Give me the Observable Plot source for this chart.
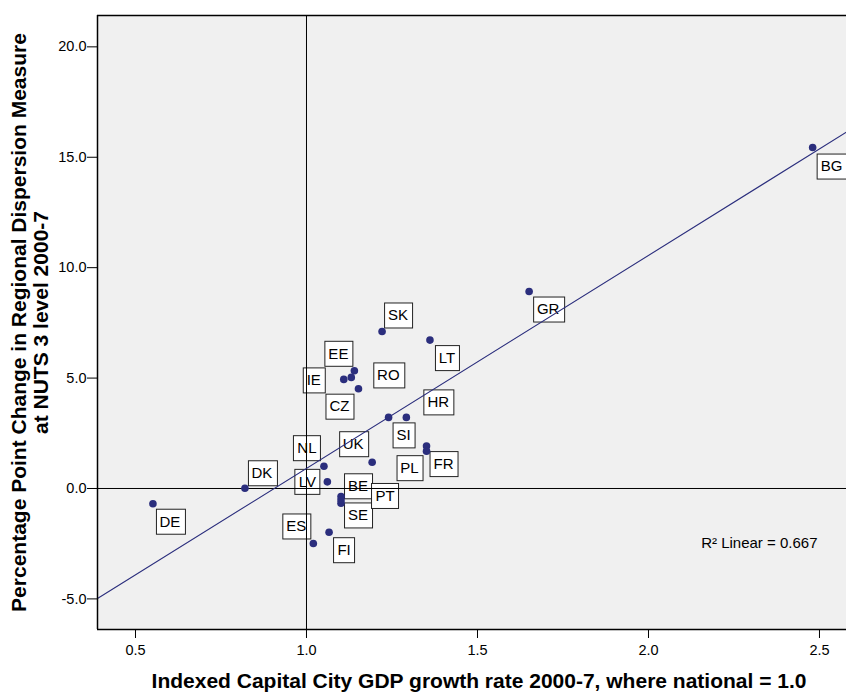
<!DOCTYPE html>
<html>
<head>
<meta charset="utf-8">
<script src="https://cdn.jsdelivr.net/npm/d3@7"></script>
<script src="https://cdn.jsdelivr.net/npm/@observablehq/plot@0.6"></script>
<style>
  body { margin: 0; background: #ffffff; }
  #chart svg { display: block; }
</style>
</head>
<body>
<div id="chart"></div>
<script>
// Capital city GDP growth (indexed, national = 1.0) vs. change in regional dispersion, 2000-7
const countries = ["BG", "GR", "SK", "LT", "EE", "RO", "IE", "CZ", "HR", "SI", "FR",
                   "PL", "UK", "NL", "LV", "DK", "DE", "BE", "SE", "PT", "ES", "FI"];
const capitalGrowth = [2.480, 1.651, 1.221, 1.361, 1.140, 1.131, 1.109, 1.152, 1.292, 1.240, 1.351,
                       1.351, 1.192, 1.051, 1.061, 0.820, 0.551, 1.101, 1.101, 1.101, 1.020, 1.066];
const dispersionChange = [15.44, 8.92, 7.11, 6.72, 5.33, 5.03, 4.94, 4.52, 3.22, 3.22, 1.92,
                          1.69, 1.19, 1.01, 0.30, 0.01, -0.69, -0.67, -0.36, -0.52, -2.49, -1.98];
const xTicks = [0.5, 1.0, 1.5, 2.0, 2.5];
const yTicks = [-5, 0, 5, 10, 15, 20];
const fitLabel = "R\u00B2 Linear = 0.667";
const xTitle = "Indexed Capital City GDP growth rate 2000-7, where national = 1.0";
const yTitle = "Percentage Point Change in Regional Dispersion Measure\nat NUTS 3 level 2000-7";

// where each country's boxed label sits relative to its point (pixels)
const labelOffset = {
  BG: [19, 19], GR: [19, 18], SK: [16, -16], LT: [17, 18], EE: [-16, -17],
  RO: [37, -2], IE: [-30, 1], CZ: [-19, 18], HR: [32, -15], SI: [15, 18],
  FR: [17, 18], PL: [-17, 17], UK: [-19, -18], NL: [-17, -18], LV: [-20, 0],
  DK: [17, -15], DE: [17, 18], BE: [17, -17], SE: [17, 19], PT: [44, -4],
  ES: [-17, -17], FI: [15, 18]
};

const data = countries.map((c, i) => ({country: c, x: capitalGrowth[i], y: dispersionChange[i]}));

// least-squares fit line
const mx = d3.mean(capitalGrowth), my = d3.mean(dispersionChange);
const slope = d3.sum(data, d => (d.x - mx) * (d.y - my)) / d3.sum(data, d => (d.x - mx) ** 2);
const intercept = my - slope * mx;

const xDomain = [0.3889, 2.579];
const yDomain = [-6.386, 21.42];
const fitLine = xDomain.map(x => ({x, y: intercept + slope * x}));

const ink = "#2b2e7d";
const fmt = d => d.toFixed(1);

const labelMarks = countries.map(c => Plot.text(data.filter(d => d.country === c), {
  x: "x", y: "y", text: "country",
  dx: labelOffset[c][0], dy: labelOffset[c][1],
  fontSize: 15, fill: "#000"
}));

const chart = Plot.plot({
  width: 846,
  height: 693,
  marginLeft: 97,
  marginRight: 0,
  marginTop: 15,
  marginBottom: 64,
  style: {fontFamily: "'Liberation Sans', Arial, sans-serif", fontSize: "14.5px", color: "#000", background: "#fff"},
  x: {domain: xDomain, label: null},
  y: {domain: yDomain, label: null},
  marks: [
    Plot.frame({fill: "#f0f0f0", stroke: "none"}),
    ...labelMarks,
    Plot.ruleX([1], {stroke: "#000", strokeWidth: 1}),
    Plot.ruleY([0], {stroke: "#000", strokeWidth: 1}),
    Plot.line(fitLine, {x: "x", y: "y", stroke: ink, strokeWidth: 1.1}),
    Plot.dot(data, {x: "x", y: "y", r: 3.8, fill: ink, stroke: "none"}),
    Plot.text([fitLabel], {frameAnchor: "bottom-right", textAnchor: "end", dx: -29, dy: -82, fontSize: 15, fill: "#000"}),
    Plot.ruleX([xDomain[0]], {stroke: "#000", strokeWidth: 1.5}),
    Plot.ruleY([yDomain[0], yDomain[1]], {stroke: "#000", strokeWidth: 1.5}),
    Plot.axisX({ticks: xTicks, tickFormat: fmt, tickSize: 9, tickPadding: 6, fontSize: 14.5, label: null}),
    Plot.axisY({ticks: yTicks, tickFormat: fmt, tickSize: 10, tickPadding: 1, fontSize: 14.5, label: null}),
    Plot.text([xTitle], {frameAnchor: "bottom", textAnchor: "middle", dx: 7, dy: 58, fontSize: 21, fontWeight: "bold", fill: "#000"}),
    Plot.text([yTitle], {frameAnchor: "left", textAnchor: "middle", rotate: -90, dx: -68, dy: 0, fontSize: 21, fontWeight: "bold", lineHeight: 1.05, fill: "#000"})
  ]
});

document.getElementById("chart").appendChild(chart);

// white boxes behind the country labels
const codes = new Set(countries);
chart.querySelectorAll('g[aria-label="text"] text').forEach(t => {
  if (!codes.has(t.textContent)) return;
  const bb = t.getBBox();
  const w = bb.width + 8, h = 25;
  const cx = bb.x + bb.width / 2, cy = bb.y + bb.height / 2;
  const rect = document.createElementNS("http://www.w3.org/2000/svg", "rect");
  rect.setAttribute("x", Math.round(cx - w / 2) + 0.5);
  rect.setAttribute("y", Math.round(cy - h / 2) + 0.5);
  rect.setAttribute("width", Math.round(w));
  rect.setAttribute("height", h);
  rect.setAttribute("fill", "#fff");
  rect.setAttribute("stroke", "#222");
  rect.setAttribute("stroke-width", 1);
  const tr = t.getAttribute("transform");
  if (tr) rect.setAttribute("transform", tr);
  t.parentNode.insertBefore(rect, t);
});
</script>
</body>
</html>
